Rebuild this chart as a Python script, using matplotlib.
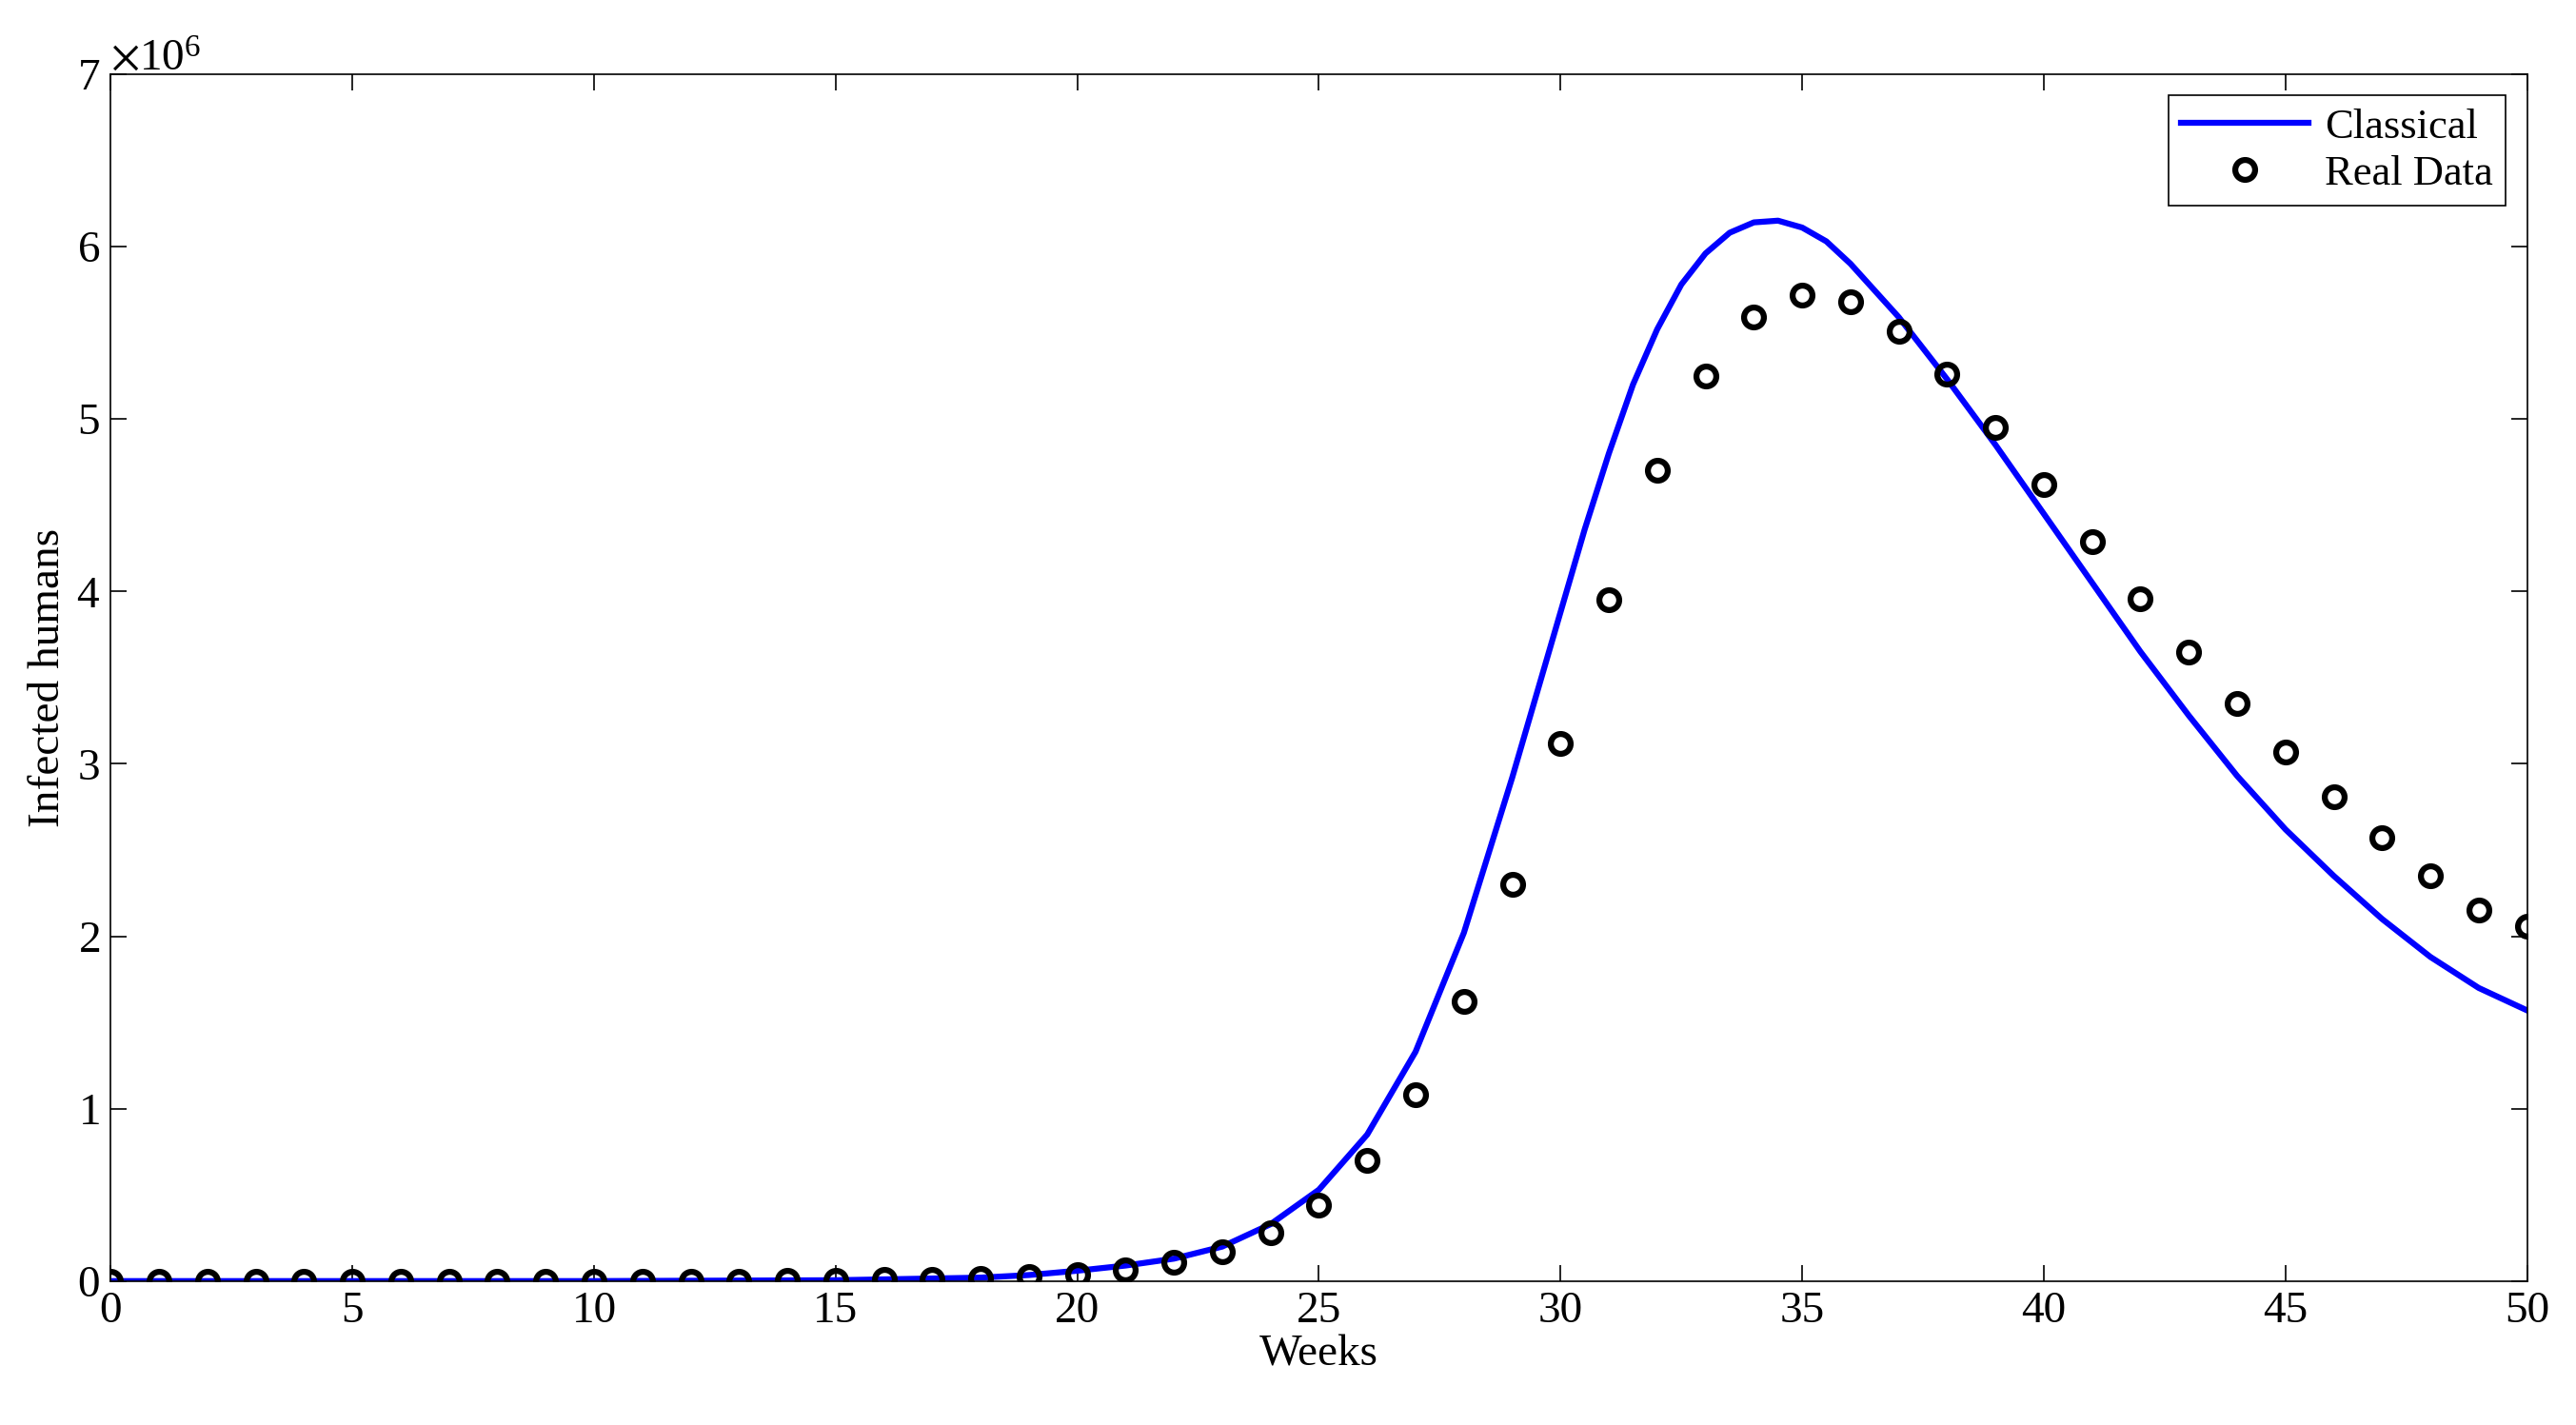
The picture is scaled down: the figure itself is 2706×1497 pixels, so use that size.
import numpy as np
import matplotlib.pyplot as plt
from matplotlib.ticker import ScalarFormatter

plt.rcParams['font.family'] = ['Liberation Serif', 'DejaVu Serif']
plt.rcParams['mathtext.fontset'] = 'stix'

# real data (weekly)
weeks = np.arange(0, 51)
real = [0, 0, 0, 0, 0, 0, 0, 0, 0, 0, 0, 0, 0, 0, 0.002, 0.004, 0.008, 0.012, 0.018, 0.028,
        0.04, 0.065, 0.11, 0.17, 0.28, 0.44, 0.70, 1.08, 1.62, 2.30, 3.12, 3.95, 4.70, 5.25,
        5.59, 5.72, 5.68, 5.51, 5.26, 4.95, 4.62, 4.29, 3.96, 3.65, 3.35, 3.07, 2.81, 2.57,
        2.35, 2.15, 2.06]

# classical model curve
t_model = [0, 5, 10, 15, 18, 19, 20, 21, 22, 23, 24, 25, 26, 27, 28, 29, 30, 30.5, 31, 31.5,
           32, 32.5, 33, 33.5, 34, 34.5, 35, 35.5, 36, 37, 38, 39, 40, 41, 42, 43, 44, 45,
           46, 47, 48, 49, 50]
classical = [0, 0, 0, 0.005, 0.02, 0.035, 0.06, 0.09, 0.13, 0.20, 0.33, 0.53, 0.85, 1.33,
             2.02, 2.92, 3.88, 4.36, 4.80, 5.20, 5.52, 5.78, 5.96, 6.08, 6.14, 6.15, 6.11,
             6.03, 5.90, 5.59, 5.23, 4.85, 4.45, 4.05, 3.65, 3.28, 2.93, 2.62, 2.35, 2.10,
             1.88, 1.70, 1.57]

fig = plt.figure(figsize=(27.06, 14.97), dpi=100)
ax = fig.add_axes([0.043, 0.101, 0.938, 0.847])

ax.plot(t_model, np.array(classical) * 1e6, color='#0000ff', lw=4.5, label='Classical')
ax.plot(weeks, np.array(real) * 1e6, 'o', ms=15, mfc='none', mec='black', mew=4.5,
        label='Real Data')

ax.set_xlim(0, 50)
ax.set_ylim(0, 7e6)
ax.set_xticks(np.arange(0, 51, 5))
ax.set_yticks(np.arange(0, 7.1e6, 1e6))
fmt = ScalarFormatter(useMathText=True)
fmt.set_powerlimits((0, 0))
ax.yaxis.set_major_formatter(fmt)
ax.yaxis.get_offset_text().set_fontsize(34)
ax.tick_params(direction='in', labelsize=34, length=12, top=True, right=True, width=1.2,
               pad=8)
for s in ax.spines.values():
    s.set_linewidth(1.2)
ax.set_xlabel('Weeks', fontsize=34, labelpad=2)
ax.set_ylabel('Infected humans', fontsize=34, labelpad=6)

leg = ax.legend(loc='upper right', fontsize=32, fancybox=False, edgecolor='black',
                framealpha=1, handlelength=3.0, borderaxespad=0.5, borderpad=0.3,
                labelspacing=0.2, handletextpad=0.4)
leg.get_frame().set_linewidth(1.2)

fig.savefig('out.png', dpi=100)
